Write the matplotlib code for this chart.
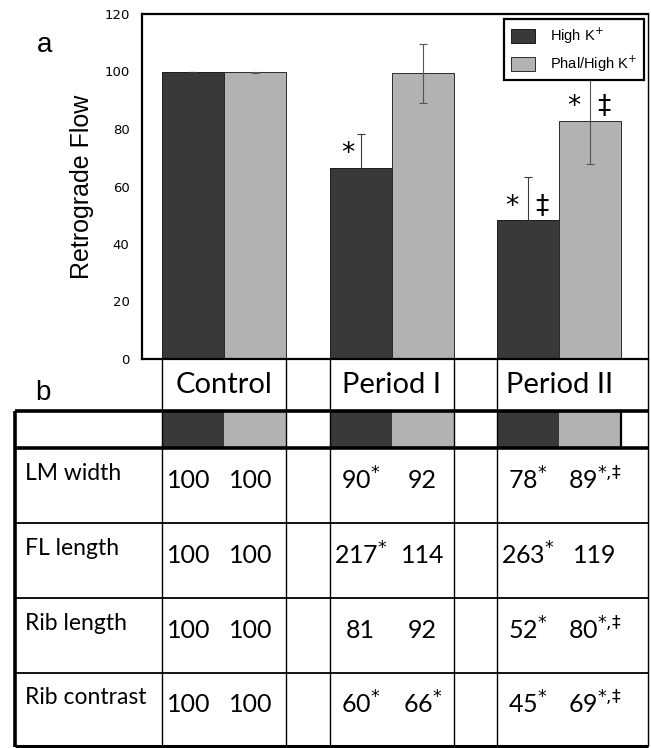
import numpy as np
import matplotlib
matplotlib.use("Agg")
import matplotlib.pyplot as plt

# ---------------- data ----------------
groups = ["Control", "Period I", "Period II"]
series = ["High K$^{+}$", "Phal/High K$^{+}$"]
high_k = [100, 66.6, 48.2]
high_k_err = [0.0, 11.8, 15.0]
phal = [99.7, 99.4, 82.8]
phal_err = [0.3, 10.2, 15.0]
high_k_marks = ["", "*", "*  \u2021"]
phal_marks = ["", "", "*  \u2021"]
yticks = [0, 20, 40, 60, 80, 100, 120]

row_labels = ["LM width", "FL length", "Rib length", "Rib contrast"]
lm_width = ["100", "100", "90$^{*}$", "92", "78$^{*}$", "89$^{*{,}\u2021}$"]
fl_length = ["100", "100", "217$^{*}$", "114", "263$^{*}$", "119"]
rib_length = ["100", "100", "81", "92", "52$^{*}$", "80$^{*{,}\u2021}$"]
rib_contrast = ["100", "100", "60$^{*}$", "66$^{*}$", "45$^{*}$", "69$^{*{,}\u2021}$"]
table_rows = [lm_width, fl_length, rib_length, rib_contrast]

# ---------------- style ----------------
DARK = "#393939"
LIGHT = "#b2b2b2"
W, H = 651, 748
TABFONT = ["Lato", "DejaVu Sans"]

fig = plt.figure(figsize=(W / 100, H / 100), dpi=100)

ax = fig.add_axes([142 / W, 1 - 359 / H, 506 / W, 345 / H])
x = np.arange(len(groups))
w = 0.37
XMIN, XMAX = -0.49, 2.53
ppu = 506 / (XMAX - XMIN)  # pixels per x unit


def px2x(px):
    return XMIN + (px - 142) / ppu


ax.bar(x - w / 2, high_k, w, color=DARK, edgecolor="#1a1a1a", linewidth=0.7,
       label=series[0], zorder=2)
ax.bar(x + w / 2, phal, w, color=LIGHT, edgecolor="#2a2a2a", linewidth=0.7,
       label=series[1], zorder=2)
ax.errorbar(x - w / 2, high_k, yerr=high_k_err, fmt="none", ecolor="#3a3a3a",
            elinewidth=0.8, capsize=3, capthick=0.8, zorder=3)
ax.errorbar(x + w / 2, phal, yerr=phal_err, fmt="none", ecolor="#555555",
            elinewidth=0.8, capsize=3, capthick=0.8, zorder=3)

for xs, vals, marks in ((x - w / 2, high_k, high_k_marks), (x + w / 2, phal, phal_marks)):
    for xi, v, m in zip(xs, vals, marks):
        if m:
            dx = -0.075 if len(m) == 1 else -0.005
            ax.text(xi + dx, v + 0.3, m, ha="center", va="bottom", fontsize=19,
                    family="DejaVu Sans")

ax.set_xlim(XMIN, XMAX)
ax.set_ylim(0, 120)
ax.set_yticks(yticks)
ax.set_xticks([])
ax.tick_params(axis="y", length=0, pad=9, labelsize=9.5)
for s in ax.spines.values():
    s.set_linewidth(1.6)
ax.spines["right"].set_linewidth(1.0)
ax.set_ylabel("Retrograde Flow", fontsize=18, family="Liberation Sans", labelpad=7)

leg = ax.legend(loc="upper right", bbox_to_anchor=(0.997, 0.995), borderaxespad=0.2,
                frameon=True, fancybox=False, framealpha=1, edgecolor="black",
                handlelength=1.7, handleheight=1.1, borderpad=0.45,
                labelspacing=0.55, handletextpad=1.0,
                prop={"family": ["Liberation Sans Narrow", "Liberation Sans"], "size": 10.5})
leg.get_frame().set_linewidth(1.6)

fig.text(45 / W, 1 - 45 / H, "a", fontsize=20, ha="center", va="center",
         family="Liberation Sans")

# ---------------- table ----------------
tab = fig.add_axes([142 / W, 0, 506 / W, (H - 359) / H])
tab.set_xlim(XMIN, XMAX)
tab.set_ylim(748, 359)
tab.axis("off")

x_left = px2x(15)
x_right = XMAX
y_top, y_head = 411, 448
row_edges = [448, 523, 598, 673, 746]

# header swatches
tab.bar(x - w / 2, y_head - y_top, w, bottom=y_top, color=DARK, clip_on=False)
tab.bar(x + w / 2, y_head - y_top, w, bottom=y_top, color=LIGHT, clip_on=False)

kw = dict(color="black", clip_on=False, solid_capstyle="butt")
# vertical lines
for xi in x:
    tab.plot([xi - w, xi - w], [359, 746], lw=1.0, **kw)
    if xi < x[-1]:
        tab.plot([xi + w, xi + w], [359, 746], lw=1.0, **kw)
tab.plot([x[-1] + w, x[-1] + w], [y_top, y_head], lw=1.6, **kw)
tab.plot([x_right, x_right], [359, 746], lw=1.0, **kw)
tab.plot([x_left, x_left], [y_top, 747], lw=2.6, **kw)
# horizontal lines
tab.plot([x_left, x_right], [y_top, y_top], lw=2.6, **kw)
tab.plot([x_left, x_right], [y_head, y_head], lw=2.6, **kw)
for ye in row_edges[1:-1]:
    tab.plot([x_left, x_right], [ye, ye], lw=1.3, **kw)
tab.plot([x_left, x_right], [746, 746], lw=2.2, **kw)

for xi, g in zip(x, groups):
    tab.text(xi, 385, g, ha="center", va="center", fontsize=21, family=TABFONT)
fig.text(43 / W, 1 - 393 / H, "b", fontsize=20, ha="center", va="center",
         family="Liberation Sans")

col_x = np.ravel(np.column_stack([x - w / 2, x + w / 2]))
col_shift = np.array([-4, -4, 0, 0, 0, 5]) / ppu
for r, (lab, vals) in enumerate(zip(row_labels, table_rows)):
    yc = (row_edges[r] + row_edges[r + 1]) / 2
    tab.text(x_left + 10 / ppu, yc - 12, lab, ha="left", va="center",
             fontsize=16.5, family=TABFONT)
    for cx, sh, v in zip(col_x, col_shift, vals):
        tab.text(cx + sh, yc - 5, v, ha="center", va="center", fontsize=18,
                 family=TABFONT)

fig.savefig("out.png", dpi=100)
